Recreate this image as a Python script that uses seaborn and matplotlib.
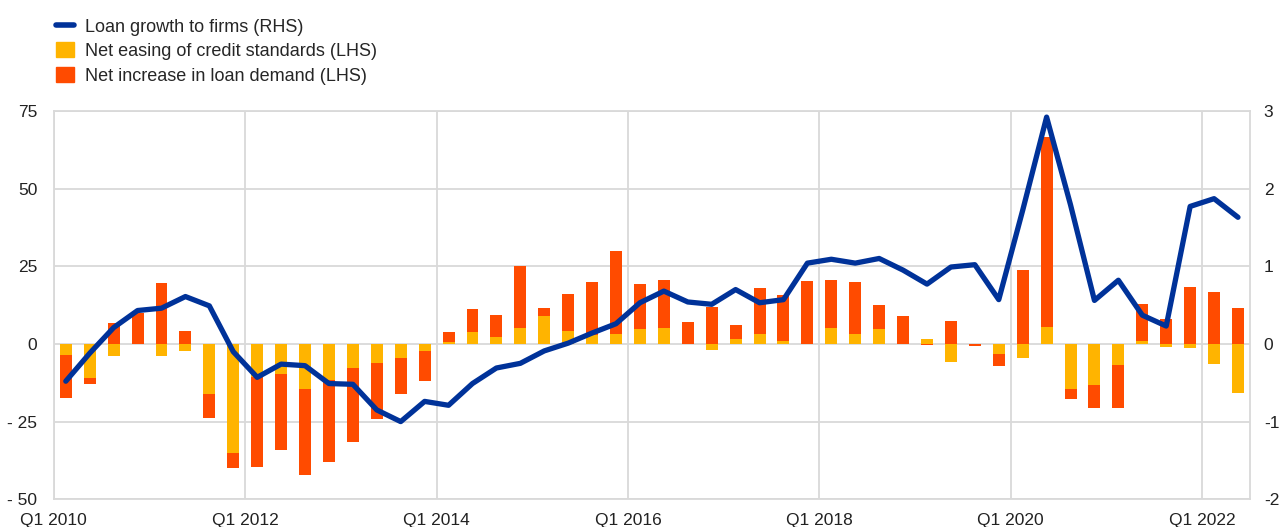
import numpy as np
import pandas as pd
import matplotlib
matplotlib.use("Agg")
import matplotlib.pyplot as plt
from matplotlib.patches import Patch
from matplotlib.lines import Line2D
import seaborn as sns

# quarterly data Q1 2010 - Q2 2022
quarters = [f"Q{q} {y}" for y in range(2010, 2023) for q in range(1, 5)][:50]

credit_standards = [-3.5, -11, -4, 0, -4, -2.3, -16, -35, -10.5, -9.8, -14.6, -11.6,
                    -7.6, -6.1, -4.6, -2.3, 0.5, 3.7, 2.3, 5.2, 8.9, 4.1, 2.8, 3.3,
                    4.7, 5.2, 0, -1.8, 1.6, 3.2, 0.9, 0, 5.2, 3.2, 4.7, 0,
                    1.5, -5.7, 0, -3.4, -4.6, 5.3, -14.5, -13.2, -6.8, 0.9, -0.9, -1.4,
                    -6.5, -15.7]
loan_demand = [-14, -2, 6.6, 10, 19.5, 4, -8, -5, -29, -24.3, -27.5, -26.5,
               -24, -18, -11.6, -9.7, 3.3, 7.5, 7, 19.9, 2.8, 12, 17.2, 26.5,
               14.7, 15.3, 7, 12, 4.5, 14.7, 14.8, 20.3, 15.3, 16.6, 7.8, 9.1,
               -0.3, 7.3, -0.8, -3.6, 23.7, 61.3, -3.3, -7.3, -13.7, 12, 8.1, 18.2,
               16.6, 11.4]
loan_growth = [-0.48, -0.12, 0.21, 0.43, 0.46, 0.61, 0.49, -0.10, -0.43, -0.26, -0.28, -0.51,
               -0.52, -0.85, -1.00, -0.74, -0.79, -0.51, -0.31, -0.25, -0.09, 0.01, 0.14, 0.26,
               0.53, 0.68, 0.54, 0.51, 0.70, 0.53, 0.57, 1.04, 1.09, 1.04, 1.10, 0.95,
               0.77, 0.99, 1.02, 0.57, 1.72, 2.92, 1.79, 0.56, 0.82, 0.37, 0.23, 1.77,
               1.87, 1.63]

df = pd.DataFrame({"quarter": quarters, "standards": credit_standards,
                   "demand": loan_demand, "growth": loan_growth})
df["x"] = np.arange(len(df))
# demand stacks on top of standards when both have the same sign
same_sign = np.sign(df["standards"]) == np.sign(df["demand"])
df["demand_bottom"] = np.where(same_sign, df["standards"], 0)

blue = "#003299"
yellow = "#FFB400"
orange = "#FF4B00"
grid_c = "#d9d9d9"

sns.set_style("white")
plt.rcParams["font.family"] = ["Liberation Sans", "DejaVu Sans"]
plt.rcParams["axes.unicode_minus"] = False

fig = plt.figure(figsize=(12.82, 5.27), dpi=100)
ax1 = fig.add_axes([0.042, 0.0526, 0.933, 0.737])

ax1.bar(df["x"], df["standards"], width=0.5, color=yellow, lw=0, zorder=2)
ax1.bar(df["x"], df["demand"], bottom=df["demand_bottom"], width=0.5,
        color=orange, lw=0, zorder=2)

ax1.set_xlim(-0.5, 49.5)
ax1.set_ylim(-50, 75)
ax1.set_yticks([-50, -25, 0, 25, 50, 75])
ax1.set_yticklabels(["- 50", "- 25", "0", "25", "50", "75"])
xt = np.arange(-0.5, 50, 8)
ax1.set_xticks(xt)
ax1.set_xticklabels([quarters[int(t + 0.5)] for t in xt])
ax1.grid(True, color=grid_c, lw=1.3, zorder=0)
ax1.set_axisbelow(True)
for s in ax1.spines.values():
    s.set_color(grid_c)
    s.set_linewidth(1.3)
ax1.tick_params(length=0, labelsize=12.5, colors="#222222", pad=12)
ax1.tick_params(axis="x", pad=10)

ax2 = ax1.twinx()
sns.lineplot(data=df, x="x", y="growth", ax=ax2, color=blue, lw=3.8, zorder=3)
ax2.set_ylim(-2, 3)
ax2.set_yticks([-2, -1, 0, 1, 2, 3])
ax2.set_xlim(-0.5, 49.5)
ax2.set_xlabel("")
ax2.set_ylabel("")
for s in ax2.spines.values():
    s.set_visible(False)
ax2.tick_params(length=0, labelsize=12.5, colors="#222222", pad=10)

handles = [Line2D([0], [0], color=blue, lw=4),
           Patch(color=yellow), Patch(color=orange)]
labels = ["Loan growth to firms (RHS)", "Net easing of credit standards (LHS)",
          "Net increase in loan demand (LHS)"]
fig.legend(handles, labels, loc="upper left", bbox_to_anchor=(0.034, 0.99),
           frameon=False, fontsize=13, handlelength=1.0, handleheight=0.9,
           handletextpad=0.6, labelspacing=0.38, borderaxespad=0.3)

fig.savefig("out.png", dpi=100)
